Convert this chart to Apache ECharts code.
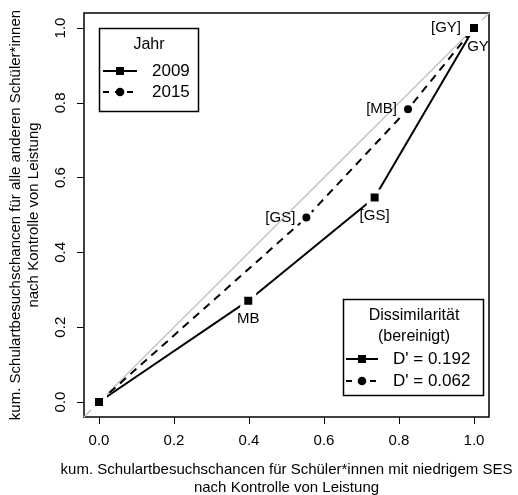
<!DOCTYPE html>
<html><head><meta charset="utf-8">
<script src="https://cdn.jsdelivr.net/npm/echarts@6/dist/echarts.min.js"></script>
<style>html,body{margin:0;padding:0;background:#fff}#c{width:518px;height:495px}</style>
</head><body><div id="c"></div>
<script>
// Data
const x2009 = [0, 0.398, 0.735, 1.0];
const y2009 = [0, 0.271, 0.547, 1.0];
const lab2009 = ["", "MB", "[GS]", "GY"];
const x2015 = [0, 0.553, 0.824, 1.0];
const y2015 = [0, 0.493, 0.783, 1.0];
const lab2015 = ["", "[GS]", "[MB]", "[GY]"];
const diag = [-0.04, 1.04];
const legendJahr = ["2009", "2015"];
const legendD = ["D' = 0.192", "D' = 0.062"];

const FONT = "Liberation Sans, Arial, sans-serif";
const chart = echarts.init(document.getElementById('c'), null, {renderer: 'canvas'});

function pts(xs, ys, labs, pos, offs) {
  return xs.map((x, i) => ({
    value: [x, ys[i]],
    label: {show: labs[i] !== "", formatter: labs[i], position: pos[i], distance: 3, offset: offs[i]}
  }));
}

// plotting axes (hidden), range extended by 4% as in R
const plotAxis = {
  type: 'value', gridIndex: 0, min: -0.04, max: 1.04,
  splitLine: {show: false}, axisLine: {show: false}, axisTick: {show: false}, axisLabel: {show: false}
};
// decoration axes for ticks/labels 0..1
const decoAxis = (gi) => ({
  type: 'value', gridIndex: gi, min: 0, max: 1, interval: 0.2,
  splitLine: {show: false},
  axisLine: {show: false},
  axisTick: {show: true, inside: false, length: 7, lineStyle: {color: '#000', width: 1}},
  axisLabel: {formatter: v => v.toFixed(1), color: '#000', fontFamily: FONT, fontSize: 15, margin: 16}
});
const hiddenAxis = (gi) => ({type: 'value', gridIndex: gi, min: 0, max: 1, show: false});

const option = {
  animation: false,
  backgroundColor: '#fff',
  grid: [
    {left: 84, top: 13, width: 405, height: 404, show: true, borderColor: '#000', borderWidth: 1.5, backgroundColor: 'transparent', outerBoundsMode: 'none', containLabel: false},
    {left: 99, top: 28, width: 375, height: 389, show: false, outerBoundsMode: 'none', containLabel: false},
    {left: 84, top: 28, width: 405, height: 374, show: false, outerBoundsMode: 'none', containLabel: false}
  ],
  xAxis: [
    plotAxis,
    Object.assign(decoAxis(1), {
      name: 'kum. Schulartbesuchschancen für Schüler*innen mit niedrigem SES\nnach Kontrolle von Leistung',
      nameLocation: 'middle', nameGap: 44,
      nameTextStyle: {color: '#000', fontFamily: FONT, fontSize: 15, lineHeight: 18}
    }),
    hiddenAxis(2)
  ],
  yAxis: [
    plotAxis,
    hiddenAxis(1),
    (function () {
      const a = decoAxis(2);
      a.axisLabel.rotate = 90;
      return Object.assign(a, {
        name: 'kum. Schulartbesuchschancen für alle anderen Schüler*innen\nnach Kontrolle von Leistung',
        nameLocation: 'middle', nameGap: 41,
        nameTextStyle: {color: '#000', fontFamily: FONT, fontSize: 15, lineHeight: 18}
      });
    })()
  ],
  series: [
    {
      type: 'line', xAxisIndex: 0, yAxisIndex: 0, data: diag.map(v => [v, v]), symbol: 'none', silent: true,
      lineStyle: {color: '#bebebe', width: 1.2}, z: 1
    },
    {
      type: 'line', name: '2015', xAxisIndex: 0, yAxisIndex: 0,
      data: pts(x2015, y2015, lab2015, ['left','left','left','left'], [[0,0],[0,0],[0,0],[-2,0]]),
      symbol: 'circle', symbolSize: 12,
      itemStyle: {color: '#000', borderColor: '#fff', borderWidth: 4},
      lineStyle: {color: '#000', width: 2, type: [8, 6]},
      label: {color: '#000', fontFamily: FONT, fontSize: 15},
      z: 3
    },
    {
      type: 'line', name: '2009', xAxisIndex: 0, yAxisIndex: 0,
      data: pts(x2009, y2009, lab2009, ['bottom','bottom','bottom','bottom'], [[0,0],[0,0],[0,0],[4,0]]),
      symbol: 'rect', symbolSize: 12,
      itemStyle: {color: '#000', borderColor: '#fff', borderWidth: 4},
      lineStyle: {color: '#000', width: 2},
      label: {color: '#000', fontFamily: FONT, fontSize: 15},
      z: 4
    }
  ],
  graphic: [
    // Jahr legend
    {type: 'rect', shape: {x: 99.5, y: 28.5, width: 99, height: 83}, style: {fill: '#fff', stroke: '#000', lineWidth: 1.5}, z: 10},
    {type: 'text', x: 149, y: 45, style: {text: 'Jahr', fill: '#000', font: '16px ' + FONT, align: 'center', verticalAlign: 'middle'}, z: 11},
    {type: 'line', shape: {x1: 103, y1: 71, x2: 137, y2: 71}, style: {stroke: '#000', lineWidth: 2}, z: 11},
    {type: 'rect', shape: {x: 116, y: 67, width: 8, height: 8}, style: {fill: '#000'}, z: 12},
    {type: 'line', shape: {x1: 103, y1: 92, x2: 137, y2: 92}, style: {stroke: '#000', lineWidth: 2, lineDash: [6, 6], lineDashOffset: 0}, z: 11},
    {type: 'circle', shape: {cx: 120, cy: 92, r: 4.3}, style: {fill: '#000'}, z: 12},
    {type: 'text', x: 152, y: 71, style: {text: legendJahr[0], fill: '#000', font: '17px ' + FONT, verticalAlign: 'middle'}, z: 11},
    {type: 'text', x: 152, y: 92, style: {text: legendJahr[1], fill: '#000', font: '17px ' + FONT, verticalAlign: 'middle'}, z: 11},
    // Dissimilarity legend
    {type: 'rect', shape: {x: 343.5, y: 299.5, width: 140, height: 96}, style: {fill: '#fff', stroke: '#000', lineWidth: 1.5}, z: 10},
    {type: 'text', x: 414, y: 316, style: {text: 'Dissimilarität', fill: '#000', font: '16px ' + FONT, align: 'center', verticalAlign: 'middle'}, z: 11},
    {type: 'text', x: 414, y: 337, style: {text: '(bereinigt)', fill: '#000', font: '16px ' + FONT, align: 'center', verticalAlign: 'middle'}, z: 11},
    {type: 'line', shape: {x1: 346, y1: 359, x2: 378, y2: 359}, style: {stroke: '#000', lineWidth: 2}, z: 11},
    {type: 'rect', shape: {x: 358, y: 355, width: 8, height: 8}, style: {fill: '#000'}, z: 12},
    {type: 'line', shape: {x1: 346, y1: 381, x2: 378, y2: 381}, style: {stroke: '#000', lineWidth: 2, lineDash: [6, 6]}, z: 11},
    {type: 'circle', shape: {cx: 362, cy: 381, r: 4.3}, style: {fill: '#000'}, z: 12},
    {type: 'text', x: 393, y: 359, style: {text: legendD[0], fill: '#000', font: '17px ' + FONT, verticalAlign: 'middle'}, z: 11},
    {type: 'text', x: 393, y: 381, style: {text: legendD[1], fill: '#000', font: '17px ' + FONT, verticalAlign: 'middle'}, z: 11}
  ]
};
chart.setOption(option);
</script></body></html>
